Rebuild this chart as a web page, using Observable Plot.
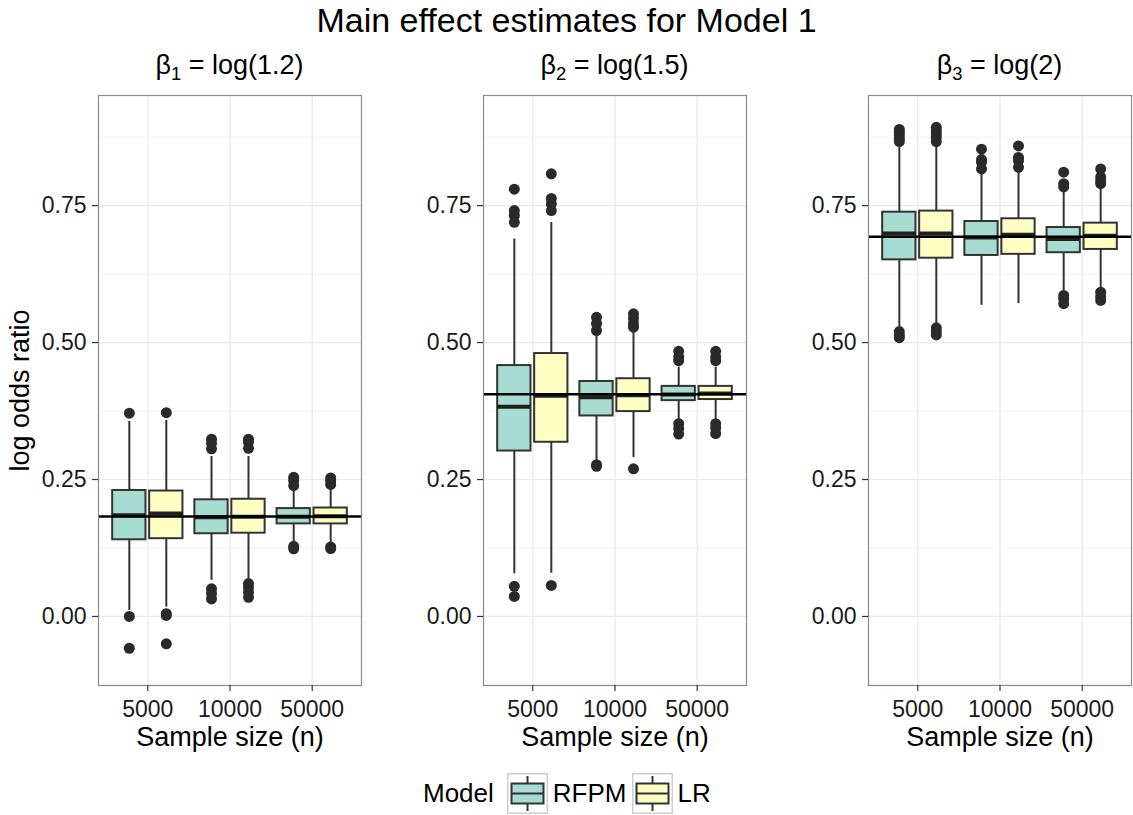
<!DOCTYPE html>
<html>
<head>
<meta charset="utf-8">
<script src="https://cdn.jsdelivr.net/npm/d3@7"></script>
<script src="https://cdn.jsdelivr.net/npm/@observablehq/plot@0.6"></script>
<style>
  body { margin: 0; background: #fff; font-family: "Liberation Sans", Arial, Helvetica, sans-serif; color: #000; }
  #root { position: relative; width: 1133px; height: 815px; overflow: hidden; background: #fff; }
  #panels { position: absolute; left: 0; top: 0; width: 1133px; display: flex; }
  #panels svg { flex: none; }
  .title { position: absolute; left: 0; width: 1133px; top: 3px; text-align: center; font-size: 34px; line-height: 34px; white-space: nowrap; }
  .strip { position: absolute; top: 52px; font-size: 27px; line-height: 27px; text-align: center; white-space: nowrap; }
  .strip .sub { font-size: 0.68em; position: relative; top: 0.3em; }
  .legend { position: absolute; left: 423px; top: 773px; height: 41px; display: flex; align-items: center; font-size: 26px; white-space: nowrap; }
  .legend svg { display: block; }
</style>
</head>
<body>
<div id="root"></div>
<script>
// ---------------- data ----------------
const title = "Main effect estimates for Model 1";
const facetSymbol = ["β", "β", "β"];
const facetSub = ["1", "2", "3"];
const facetExpr = ["log(1.2)", "log(1.5)", "log(2)"];
const trueValues = [0.1823, 0.4055, 0.6931];
const sampleSizes = ["5000", "10000", "50000"];
const models = ["RFPM", "LR"];
const modelColors = ["#a6dcd1", "#ffffc4"];
const yTicks = [0, 0.25, 0.5, 0.75];
const yMinorTicks = [-0.125, 0.125, 0.375, 0.625, 0.875];
const yLabel = "log odds ratio";
const xLabel = "Sample size (n)";
const legendTitle = "Model";

// Box statistics, order: facet (β1, β2, β3) -> sample size (5000, 10000, 50000) -> model (RFPM, LR)
const whiskerLow = [
  0.011, 0.017,  0.066, 0.069,  0.134, 0.134,
  0.078, 0.079,  0.285, 0.290,  0.359, 0.359,
  0.528, 0.534,  0.568, 0.571,  0.595, 0.598
];
const q1 = [
  0.140, 0.142,  0.151, 0.152,  0.169, 0.169,
  0.302, 0.318,  0.366, 0.374,  0.394, 0.396,
  0.651, 0.654,  0.659, 0.661,  0.664, 0.670
];
const median = [
  0.185, 0.188,  0.181, 0.182,  0.182, 0.183,
  0.383, 0.403,  0.400, 0.404,  0.405, 0.407,
  0.699, 0.699,  0.692, 0.697,  0.689, 0.695
];
const q3 = [
  0.230, 0.229,  0.213, 0.214,  0.197, 0.198,
  0.458, 0.480,  0.429, 0.434,  0.420, 0.420,
  0.738, 0.740,  0.721, 0.726,  0.710, 0.718
];
const whiskerHigh = [
  0.356, 0.358,  0.292, 0.292,  0.235, 0.236,
  0.689, 0.719,  0.513, 0.519,  0.455, 0.455,
  0.863, 0.862,  0.811, 0.814,  0.774, 0.783
];
const outliers = [
  [0.371, 0.000, -0.058], [0.372, 0.005, 0.002, -0.050],
  [0.3235, 0.316, 0.306, 0.0505, 0.042, 0.032], [0.3235, 0.318, 0.307, 0.060, 0.053, 0.044, 0.035],
  [0.254, 0.248, 0.239, 0.1235, 0.128], [0.253, 0.248, 0.241, 0.124, 0.127],
  [0.780, 0.741, 0.732, 0.7195, 0.055, 0.0365], [0.808, 0.763, 0.753, 0.741, 0.0566],
  [0.546, 0.535, 0.522, 0.274, 0.277], [0.5525, 0.544, 0.535, 0.528, 0.2695],
  [0.484, 0.474, 0.467, 0.352, 0.343, 0.333], [0.484, 0.474, 0.467, 0.352, 0.344, 0.334],
  [0.889, 0.884, 0.878, 0.872, 0.867, 0.520, 0.513, 0.509], [0.893, 0.887, 0.881, 0.875, 0.867, 0.527, 0.520, 0.514],
  [0.853, 0.834, 0.829, 0.817], [0.859, 0.838, 0.832, 0.820],
  [0.811, 0.790, 0.784, 0.586, 0.580, 0.571], [0.817, 0.802, 0.795, 0.790, 0.592, 0.584, 0.577]
];

// ---------------- layout (not data) ----------------
const dodge = [-0.225, 0.225];
const halfBox = 0.2025;
const groupPos = sampleSizes.map((_, i) => i + 1);
const panelSpecs = [
  {width: 380, marginLeft: 98, marginRight: 19},
  {width: 385, marginLeft: 103, marginRight: 19},
  {width: 368, marginLeft: 103, marginRight: 2}
];
const FONT = '"Liberation Sans", Arial, Helvetica, sans-serif';

// build tables
const boxes = [];
const outRows = [];
for (let f = 0; f < 3; f++) for (let s = 0; s < 3; s++) for (let m = 0; m < 2; m++) {
  const i = f * 6 + s * 2 + m;
  const pos = groupPos[s] + dodge[m];
  boxes.push({facet: f, size: sampleSizes[s], model: models[m], pos,
    lo: whiskerLow[i], q1: q1[i], med: median[i], q3: q3[i], hi: whiskerHigh[i]});
  for (const v of outliers[i]) outRows.push({facet: f, model: models[m], pos, v});
}

const root = document.getElementById("root");
const panelsDiv = document.createElement("div");
panelsDiv.id = "panels";
root.appendChild(panelsDiv);

let xOffset = 0;
panelSpecs.forEach((spec, f) => {
  const data = boxes.filter(d => d.facet === f);
  const outs = outRows.filter(d => d.facet === f);
  const marks = [
    Plot.gridY(yMinorTicks, {stroke: "#f3f3f3", strokeOpacity: 1, strokeWidth: 1}),
    Plot.gridY(yTicks, {stroke: "#e8e8e8", strokeOpacity: 1, strokeWidth: 1.2}),
    Plot.gridX(groupPos, {stroke: "#e8e8e8", strokeOpacity: 1, strokeWidth: 1.2}),
    Plot.ruleX(data, {x: "pos", y1: "lo", y2: "hi", stroke: "#333333", strokeWidth: 2}),
    Plot.rect(data, {x1: d => d.pos - halfBox, x2: d => d.pos + halfBox, y1: "q1", y2: "q3",
      fill: "model", stroke: "#333333", strokeWidth: 2}),
    Plot.ruleY(data, {x1: d => d.pos - halfBox, x2: d => d.pos + halfBox, y: "med",
      stroke: "#1f1f1f", strokeWidth: 4}),
    Plot.ruleY([trueValues[f]], {stroke: "#000", strokeWidth: 2.5}),
    Plot.dot(outs, {x: "pos", y: "v", r: 5.5, fill: "#2a2a2a", stroke: null}),
    Plot.frame({stroke: "#8a8a8a", strokeWidth: 1.2}),
    Plot.axisY({ticks: yTicks, tickFormat: d => d.toFixed(2), tickSize: 6, tickPadding: 6,
      stroke: "#333", strokeWidth: 1.2, fill: "#1a1a1a", fontSize: 23, label: null}),
    Plot.axisX({ticks: groupPos, tickFormat: d => sampleSizes[d - 1], tickSize: 6, tickPadding: 9,
      stroke: "#333", strokeWidth: 1.2, fill: "#1a1a1a", fontSize: 23, label: null}),
    Plot.text([xLabel], {frameAnchor: "bottom", lineAnchor: "middle", textAnchor: "middle",
      dy: 52, fontSize: 27, fill: "#000"})
  ];
  if (f === 0) marks.push(Plot.text([yLabel], {frameAnchor: "left", lineAnchor: "middle", textAnchor: "middle",
    dx: -78, rotate: -90, fontSize: 27, fill: "#000"}));
  const svg = Plot.plot({
    width: spec.width, height: 760,
    marginTop: 95, marginBottom: 75, marginLeft: spec.marginLeft, marginRight: spec.marginRight,
    x: {domain: [0.4, 3.6]},
    y: {domain: [-0.126, 0.951]},
    color: {domain: models, range: modelColors},
    style: {fontFamily: FONT, fontSize: "23px", background: "transparent", overflow: "visible", maxWidth: "none"},
    marks
  });
  panelsDiv.appendChild(svg);

  // strip label centred over the panel
  const panelLeft = xOffset + spec.marginLeft;
  const panelRight = xOffset + spec.width - spec.marginRight;
  const strip = document.createElement("div");
  strip.className = "strip";
  strip.style.left = panelLeft + "px";
  strip.style.width = (panelRight - panelLeft) + "px";
  strip.innerHTML = `${facetSymbol[f]}<span class="sub">${facetSub[f]}</span> = ${facetExpr[f]}`;
  root.appendChild(strip);
  xOffset += spec.width;
});

// title
const t = document.createElement("div");
t.className = "title";
t.textContent = title;
root.appendChild(t);

// legend
const legend = document.createElement("div");
legend.className = "legend";
const lt = document.createElement("span");
lt.textContent = legendTitle;
lt.style.marginRight = "13px";
legend.appendChild(lt);
models.forEach((m, i) => {
  const key = d3.create("svg").attr("width", 41).attr("height", 41);
  key.append("rect").attr("x", 0.75).attr("y", 0.75).attr("width", 39.5).attr("height", 39.5)
    .attr("fill", "#fff").attr("stroke", "#cfcfcf").attr("stroke-width", 1.5);
  key.append("line").attr("x1", 20.5).attr("x2", 20.5).attr("y1", 3).attr("y2", 38)
    .attr("stroke", "#333").attr("stroke-width", 2);
  key.append("rect").attr("x", 4.5).attr("y", 10.5).attr("width", 32).attr("height", 20)
    .attr("fill", modelColors[i]).attr("stroke", "#333").attr("stroke-width", 2);
  key.append("line").attr("x1", 4.5).attr("x2", 36.5).attr("y1", 20.5).attr("y2", 20.5)
    .attr("stroke", "#333").attr("stroke-width", 2);
  legend.appendChild(key.node());
  const lab = document.createElement("span");
  lab.textContent = m;
  lab.style.margin = "0 5px 0 5px";
  legend.appendChild(lab);
});
root.appendChild(legend);
</script>
</body>
</html>
